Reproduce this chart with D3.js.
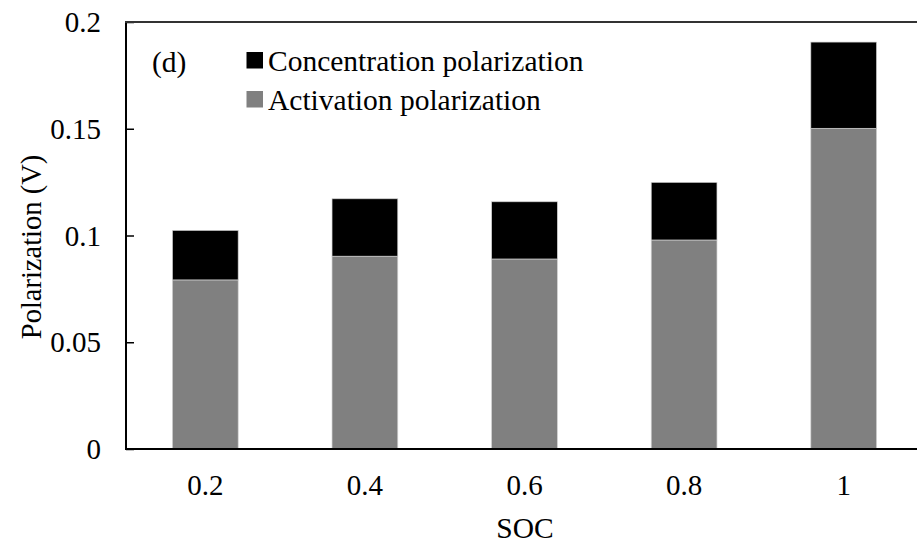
<!DOCTYPE html>
<html>
<head>
<meta charset="utf-8">
<script src="https://cdn.jsdelivr.net/npm/d3@7"></script>
<style>
  html, body { margin: 0; padding: 0; background: #fff; }
  svg { display: block; }
</style>
</head>
<body>
<svg id="chart" width="917" height="544"></svg>
<script>
// SOC levels and the two polarization components (V)
const socLabels = ["0.2", "0.4", "0.6", "0.8", "1"];
const activation = [0.0792, 0.0903, 0.0890, 0.0979, 0.1502];
const concentration = [0.0232, 0.0269, 0.0268, 0.0270, 0.0404];
const yTicks = [0, 0.05, 0.1, 0.15, 0.2];
const yTickLabels = ["0", "0.05", "0.1", "0.15", "0.2"];
const seriesNames = ["Concentration polarization", "Activation polarization"];
const seriesColors = ["#000000", "#808080"];

const FONT = "Liberation Serif";

const svg = d3.select("#chart");
const W = 917;

const plot = { left: 126, top: 22, bottom: 449, right: 923.5 };

const x = d3.scaleBand()
  .domain(socLabels)
  .range([plot.left - 0.5, plot.right])
  .paddingInner(0.588)
  .paddingOuter(0.294);

const y = d3.scaleLinear()
  .domain([0, 0.2])
  .range([plot.bottom, plot.top]);

// Stack the components: activation at the base, concentration above it
const rows = socLabels.map((s, i) => ({ soc: s, activation: activation[i], concentration: concentration[i] }));
const stacked = d3.stack().keys(["activation", "concentration"])(rows);
const colorFor = { activation: seriesColors[1], concentration: seriesColors[0] };

svg.append("g")
  .selectAll("g")
  .data(stacked)
  .join("g")
  .attr("fill", d => colorFor[d.key])
  .selectAll("rect")
  .data(d => d)
  .join("rect")
  .attr("x", d => x(d.data.soc))
  .attr("width", x.bandwidth())
  .attr("y", d => y(d[1]))
  .attr("height", d => y(d[0]) - y(d[1]))
  .attr("stroke", "#d0d0d0")
  .attr("stroke-width", 0.7);

// Y axis with inward ticks
const yAxis = d3.axisLeft(y)
  .tickValues(yTicks)
  .tickSize(-8)
  .tickPadding(25)
  .tickFormat((d, i) => yTickLabels[i]);

const gy = svg.append("g")
  .attr("transform", `translate(${plot.left},0)`)
  .call(yAxis)
  .attr("font-family", FONT)
  .attr("font-size", 29);
gy.select(".domain").remove();
gy.selectAll(".tick line").attr("stroke", "#000").attr("stroke-width", 1.5);
gy.selectAll(".tick text")
  .attr("fill", "#000")
  .attr("dy", "0.33em");

// X axis labels (no tick marks)
const xAxis = d3.axisBottom(x).tickSize(0).tickPadding(25);
const gx = svg.append("g")
  .attr("transform", `translate(0,${plot.bottom})`)
  .call(xAxis)
  .attr("font-family", FONT)
  .attr("font-size", 29);
gx.select(".domain").remove();
gx.selectAll(".tick text").attr("fill", "#000");

// Frame lines: left axis, bottom axis, top border
svg.append("line")
  .attr("x1", plot.left).attr("x2", plot.left)
  .attr("y1", plot.top - 1).attr("y2", plot.bottom + 1)
  .attr("stroke", "#000").attr("stroke-width", 2);
svg.append("line")
  .attr("x1", plot.left - 1).attr("x2", W)
  .attr("y1", plot.bottom).attr("y2", plot.bottom)
  .attr("stroke", "#000").attr("stroke-width", 2);
svg.append("line")
  .attr("x1", plot.left - 1).attr("x2", W)
  .attr("y1", plot.top).attr("y2", plot.top)
  .attr("stroke", "#333").attr("stroke-width", 2);

function label(sel, size) {
  return sel.attr("font-family", FONT).attr("font-size", size).attr("fill", "#000");
}

// Axis titles
svg.append("text")
  .attr("x", 525).attr("y", 538)
  .attr("text-anchor", "middle")
  .call(label, 29.5)
  .text("SOC");

svg.append("text")
  .attr("transform", "translate(41,247) rotate(-90)")
  .attr("text-anchor", "middle")
  .call(label, 28.5)
  .text("Polarization (V)");

// Panel tag
svg.append("text")
  .attr("x", 152).attr("y", 71.5)
  .call(label, 29.5)
  .text("(d)");

// Legend
const legend = svg.append("g");
seriesNames.forEach((name, i) => {
  const base = 71 + i * 39;
  legend.append("rect")
    .attr("x", 246.5).attr("y", base - 19)
    .attr("width", 16.5).attr("height", 16.5)
    .attr("fill", seriesColors[i]);
  legend.append("text")
    .attr("x", 268).attr("y", base)
    .call(label, 29.5)
    .text(name);
});
</script>
</body>
</html>
